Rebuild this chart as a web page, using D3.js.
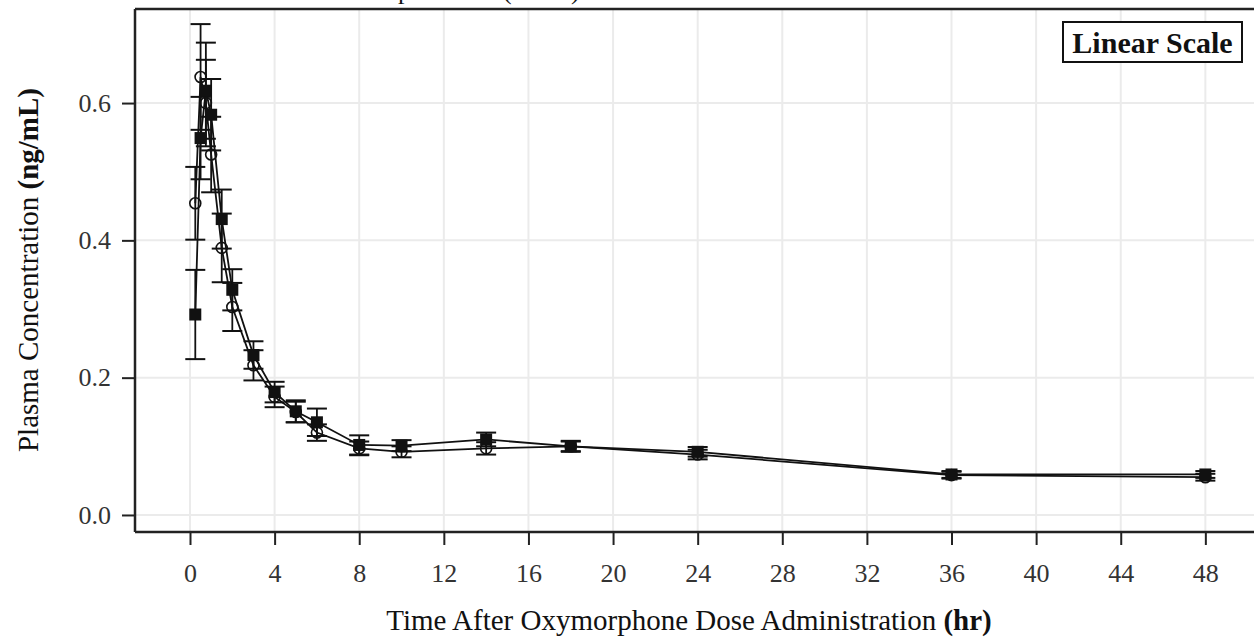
<!DOCTYPE html>
<html>
<head>
<meta charset="utf-8">
<script src="https://cdn.jsdelivr.net/npm/d3@7.9.0/dist/d3.min.js"></script>
<style>
  html, body { margin: 0; padding: 0; background: #fff; }
  svg { display: block; font-family: "Liberation Serif", "Times New Roman", serif; }
</style>
</head>
<body>
<svg id="chart" width="1254" height="641"></svg>
<script>
// sampling times (hr)
const times = [0.25, 0.5, 0.75, 1, 1.5, 2, 3, 4, 5, 6, 8, 10, 14, 18, 24, 36, 48];

// open circles
const circleMean = [0.454, 0.638, 0.600, 0.525, 0.389, 0.303, 0.218, 0.172, 0.150, 0.120, 0.097, 0.092, 0.097, 0.100, 0.088, 0.058, 0.055];
const circleSD   = [0.053, 0.077, 0.063, 0.055, 0.050, 0.035, 0.022, 0.015, 0.015, 0.012, 0.010, 0.008, 0.009, 0.008, 0.007, 0.005, 0.005];

// filled squares
const squareMean = [0.292, 0.549, 0.618, 0.583, 0.431, 0.328, 0.233, 0.179, 0.151, 0.135, 0.102, 0.101, 0.110, 0.100, 0.092, 0.059, 0.059];
const squareSD   = [0.065, 0.060, 0.070, 0.052, 0.043, 0.030, 0.020, 0.015, 0.016, 0.020, 0.014, 0.008, 0.010, 0.007, 0.007, 0.005, 0.005];

const xTicks = d3.range(0, 49, 4);
const yTicks = [0, 0.2, 0.4, 0.6];

const width = 1254;
const height = 641;
const margin = { top: 9, right: 0, bottom: 109, left: 135 };

const svg = d3.select('#chart');

const x = d3.scaleLinear()
  .domain([-2.6, 50.3])
  .range([margin.left, width - margin.right]);

const y = d3.scaleLinear()
  .domain([-0.0248, 0.737])
  .range([height - margin.bottom, margin.top]);

const series = [
  { name: 'circle', mean: circleMean, sd: circleSD },
  { name: 'square', mean: squareMean, sd: squareSD },
];
series.forEach(s => {
  s.points = times.map((t, i) => ({ t, m: s.mean[i], sd: s.sd[i] }));
});

// title, cut off by the top edge as in the source figure
const title = svg.append('text')
  .attr('y', -1.5)
  .attr('font-size', 26)
  .attr('fill', '#111');
title.append('tspan').attr('x', 398).text('plasma');
title.append('tspan').attr('x', 503).text('(N=24)');

// gridlines
svg.append('g')
  .attr('class', 'grid-x')
  .selectAll('line')
  .data(xTicks)
  .join('line')
  .attr('x1', d => x(d)).attr('x2', d => x(d))
  .attr('y1', margin.top).attr('y2', height - margin.bottom)
  .attr('stroke', '#ebebeb')
  .attr('stroke-width', 2);

svg.append('g')
  .attr('class', 'grid-y')
  .selectAll('line')
  .data(yTicks)
  .join('line')
  .attr('x1', margin.left).attr('x2', width)
  .attr('y1', d => y(d)).attr('y2', d => y(d))
  .attr('stroke', '#ebebeb')
  .attr('stroke-width', 2);

// axes
const xAxis = d3.axisBottom(x)
  .tickValues(xTicks)
  .tickSize(13)
  .tickPadding(19)
  .tickSizeOuter(0)
  .tickFormat(d3.format('d'));

const yAxis = d3.axisLeft(y)
  .tickValues(yTicks)
  .tickSize(13)
  .tickPadding(11)
  .tickSizeOuter(0)
  .tickFormat(d3.format('.1f'));

const gx = svg.append('g')
  .attr('transform', `translate(0, ${height - margin.bottom})`)
  .call(xAxis);

const gy = svg.append('g')
  .attr('transform', `translate(${margin.left}, 0)`)
  .call(yAxis);

[gx, gy].forEach(g => {
  g.select('.domain').remove();
  g.selectAll('.tick line').attr('stroke', '#222').attr('stroke-width', 2);
  g.selectAll('.tick text')
    .attr('font-family', '"Liberation Serif", serif')
    .attr('font-size', 26)
    .attr('fill', '#333');
});

// frame lines (left, top, bottom)
svg.append('line')
  .attr('x1', margin.left).attr('x2', margin.left)
  .attr('y1', margin.top).attr('y2', height - margin.bottom)
  .attr('stroke', '#222').attr('stroke-width', 2.5);
svg.append('line')
  .attr('x1', margin.left).attr('x2', width)
  .attr('y1', margin.top).attr('y2', margin.top)
  .attr('stroke', '#222').attr('stroke-width', 2.5);
svg.append('line')
  .attr('x1', margin.left).attr('x2', width)
  .attr('y1', height - margin.bottom).attr('y2', height - margin.bottom)
  .attr('stroke', '#222').attr('stroke-width', 2.5);

// axis titles
const xTitle = svg.append('text')
  .attr('x', 689)
  .attr('y', 630)
  .attr('text-anchor', 'middle')
  .attr('font-size', 29)
  .attr('fill', '#111');
xTitle.append('tspan').text('Time After Oxymorphone Dose Administration ');
xTitle.append('tspan').attr('font-weight', 'bold').text('(hr)');

const yTitle = svg.append('text')
  .attr('transform', `translate(38, 270) rotate(-90)`)
  .attr('text-anchor', 'middle')
  .attr('font-size', 29)
  .attr('fill', '#111');
yTitle.append('tspan').text('Plasma Concentration ');
yTitle.append('tspan').attr('font-weight', 'bold').text('(ng/mL)');

// lines
const line = d3.line().x(d => x(d.t)).y(d => y(d.m));
svg.append('g')
  .selectAll('path')
  .data(series)
  .join('path')
  .attr('d', d => line(d.points))
  .attr('fill', 'none')
  .attr('stroke', '#111')
  .attr('stroke-width', 1.8);

// error bars
const capW = 10;
series.forEach(s => {
  const g = svg.append('g').attr('class', 'err-' + s.name);
  g.selectAll('line.v')
    .data(s.points)
    .join('line')
    .attr('class', 'v')
    .attr('x1', d => x(d.t)).attr('x2', d => x(d.t))
    .attr('y1', d => y(d.m - d.sd)).attr('y2', d => y(d.m + d.sd))
    .attr('stroke', '#111').attr('stroke-width', 1.8);
  ['lo', 'hi'].forEach(k => {
    g.selectAll('line.' + k)
      .data(s.points)
      .join('line')
      .attr('class', k)
      .attr('x1', d => x(d.t) - capW).attr('x2', d => x(d.t) + capW)
      .attr('y1', d => y(k === 'lo' ? d.m - d.sd : d.m + d.sd))
      .attr('y2', d => y(k === 'lo' ? d.m - d.sd : d.m + d.sd))
      .attr('stroke', '#111').attr('stroke-width', 2);
  });
});

// markers
svg.append('g')
  .selectAll('circle')
  .data(series[0].points)
  .join('circle')
  .attr('cx', d => x(d.t))
  .attr('cy', d => y(d.m))
  .attr('r', 5.5)
  .attr('fill', 'none')
  .attr('stroke', '#111')
  .attr('stroke-width', 1.6);

const sq = 12;
svg.append('g')
  .selectAll('rect')
  .data(series[1].points)
  .join('rect')
  .attr('x', d => x(d.t) - sq / 2)
  .attr('y', d => y(d.m) - sq / 2)
  .attr('width', sq)
  .attr('height', sq)
  .attr('fill', '#111');

// scale label box
const legend = svg.append('g');
legend.append('rect')
  .attr('x', 1063).attr('y', 22)
  .attr('width', 179).attr('height', 40)
  .attr('fill', '#fff')
  .attr('stroke', '#111')
  .attr('stroke-width', 2);
legend.append('text')
  .attr('x', 1152.5).attr('y', 53)
  .attr('text-anchor', 'middle')
  .attr('font-size', 30)
  .attr('font-weight', 'bold')
  .attr('fill', '#111')
  .text('Linear Scale');
</script>
</body>
</html>
